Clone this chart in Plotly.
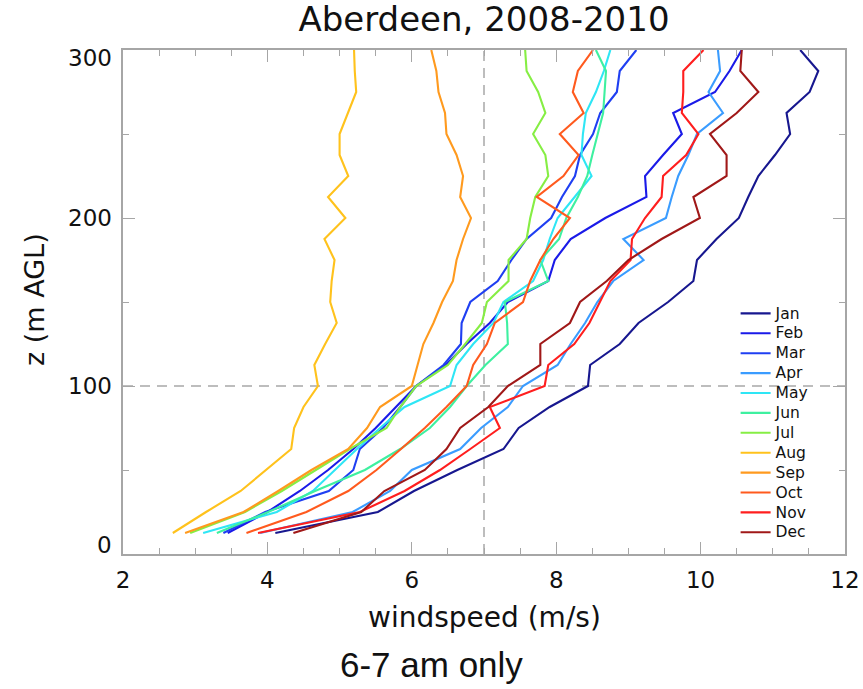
import plotly.graph_objects as go

# heights (m AGL)
heights = [12.5 * k for k in range(1, 25)]

months = ["Jan", "Feb", "Mar", "Apr", "May", "Jun", "Jul", "Aug", "Sep", "Oct", "Nov", "Dec"]

jan = [4.11, 5.53, 6.03, 6.63, 7.27, 7.48, 7.91, 8.44, 8.47, 8.88, 9.14, 9.55, 9.90, 9.95, 10.22, 10.53, 10.66, 10.80, 11.03, 11.24, 11.19, 11.51, 11.63, 11.38]
feb = [3.45, 4.00, 4.45, 4.84, 5.19, 5.50, 5.78, 6.06, 6.47, 6.76, 7.08, 7.33, 7.89, 7.98, 8.20, 8.68, 9.25, 9.23, 9.48, 9.74, 9.62, 10.20, 10.40, 10.57]
mar = [3.39, 3.97, 4.85, 5.19, 5.28, 5.60, 5.84, 6.06, 6.44, 6.68, 6.69, 6.81, 7.19, 7.38, 7.59, 7.93, 8.08, 8.26, 8.33, 8.51, 8.61, 8.84, 8.88, 9.11]
apr = [3.90, 5.18, 5.70, 6.00, 6.67, 6.96, 7.33, 7.54, 8.02, 8.20, 8.40, 8.57, 8.79, 9.21, 8.93, 9.52, 9.60, 9.69, 9.83, 9.95, 10.31, 10.11, 10.27, 10.24]
may = [3.11, 4.13, 4.63, 4.93, 5.24, 5.56, 5.90, 6.53, 6.62, 6.85, 7.13, 7.27, 7.68, 7.82, 7.91, 8.02, 8.25, 8.49, 8.35, 8.37, 8.41, 8.55, 8.66, 8.75]
jun = [3.30, 4.01, 4.66, 5.35, 5.84, 6.25, 6.53, 6.76, 7.02, 7.33, 7.32, 7.29, 7.89, 7.78, 8.04, 8.14, 8.30, 8.43, 8.50, 8.58, 8.65, 8.67, 8.69, 8.55]
jul = [2.93, 3.69, 4.20, 4.67, 5.14, 5.65, 5.84, 6.06, 6.50, 6.74, 6.97, 7.04, 7.34, 7.34, 7.59, 7.64, 7.71, 7.89, 7.85, 7.68, 7.85, 7.75, 7.59, 7.57]
aug = [2.69, 3.15, 3.63, 3.98, 4.33, 4.37, 4.50, 4.70, 4.65, 4.80, 4.96, 4.87, 4.89, 4.93, 4.79, 5.08, 4.84, 5.12, 5.00, 5.00, 5.11, 5.23, 5.21, 5.20]
sep = [2.86, 3.67, 4.15, 4.61, 5.12, 5.38, 5.56, 6.00, 6.08, 6.16, 6.30, 6.42, 6.57, 6.62, 6.71, 6.82, 6.67, 6.71, 6.62, 6.48, 6.46, 6.37, 6.34, 6.27]
oct_ = [3.71, 4.54, 5.12, 5.51, 5.85, 6.18, 6.48, 6.76, 6.85, 7.04, 7.15, 7.54, 7.64, 7.78, 7.96, 8.19, 7.73, 8.10, 8.31, 8.05, 8.38, 8.23, 8.30, 8.51]
nov = [3.87, 5.28, 5.90, 6.39, 6.81, 7.22, 7.08, 7.84, 7.89, 8.25, 8.46, 8.61, 8.75, 9.03, 9.05, 9.23, 9.46, 9.48, 9.80, 9.97, 9.74, 9.76, 9.76, 10.04]
dec = [4.36, 5.30, 5.62, 6.18, 6.48, 6.67, 7.06, 7.33, 7.78, 7.78, 8.19, 8.33, 8.70, 9.00, 9.46, 9.99, 9.90, 10.36, 10.36, 10.13, 10.50, 10.80, 10.55, 10.57]

series = [jan, feb, mar, apr, may, jun, jul, aug, sep, oct_, nov, dec]
colors = ["#17178f", "#1a1ae8", "#1f3ff2", "#3a9cff", "#2ee6f5", "#3ef0a0",
          "#86ee44", "#ffc21c", "#ff9a1e", "#ff5a1e", "#ff1e1e", "#a01818"]

x_ticks = [2, 4, 6, 8, 10, 12]
y_ticks = [0, 100, 200, 300]
y_ticktext = ["0", "100", "200", "300"]
ref_ws = 7
ref_z = 100

FONT = "DejaVu Sans, sans-serif"
CAPFONT = "Liberation Sans, Arial, sans-serif"
AXC = "#a6a6a6"
TXT = "#111"

fig = go.Figure()
for name, vals, col in zip(months, series, colors):
    fig.add_trace(go.Scatter(x=vals, y=heights, mode="lines",
                             name=f"<span style='font-size:15.5px'>{name}</span>",
                             line=dict(color=col, width=2.1)))

fig.add_shape(type="line", xref="x", yref="paper", x0=ref_ws, x1=ref_ws, y0=0, y1=1,
              line=dict(color="#bdbdbd", width=2, dash="10px,7px"), layer="below")
fig.add_shape(type="line", xref="paper", yref="y", x0=0, x1=1, y0=ref_z, y1=ref_z,
              line=dict(color="#bdbdbd", width=2, dash="10px,7px"), layer="below")

axis_common = dict(showgrid=False, zeroline=False, showline=True, linecolor=AXC, linewidth=1.5,
                   mirror="ticks", ticks="inside", tickcolor=AXC, tickwidth=1.3, ticklen=12,
                   automargin=False, tickfont=dict(family=FONT, size=23, color=TXT))

fig.update_xaxes(range=[2, 12], tickvals=x_ticks, ticklabelstandoff=5,
                 minor=dict(dtick=0.5, ticks="inside", ticklen=6, tickcolor=AXC, tickwidth=1.3),
                 **axis_common)
fig.update_yaxes(range=[0, 300], tickvals=y_ticks, showticklabels=False,
                 minor=dict(dtick=50, ticks="inside", ticklen=6, tickcolor=AXC, tickwidth=1.3),
                 **axis_common)

# y tick labels (end labels nudged inward as in the reference)
annotations = []
for i, (v, t) in enumerate(zip(y_ticks, y_ticktext)):
    shift = 9 if i == 0 else (-8 if i == len(y_ticks) - 1 else 0)
    annotations.append(dict(text=t, xref="paper", yref="y", x=0, y=v, xanchor="right",
                            yanchor="middle", xshift=-9, yshift=shift, showarrow=False,
                            font=dict(family=FONT, size=23, color=TXT)))

annotations += [
    dict(text="windspeed (m/s)", xref="paper", yref="paper", x=0.5, y=-(617 - 554) / 504,
         xanchor="center", yanchor="middle", showarrow=False,
         font=dict(family=FONT, size=28, color=TXT)),
    dict(text="z (m AGL)", xref="paper", yref="paper", x=-(123 - 35) / 722, y=0.504,
         xanchor="center", yanchor="middle", textangle=-90, showarrow=False,
         font=dict(family=FONT, size=27, color=TXT)),
    dict(text="6-7 am only", xref="paper", yref="paper", x=(431 - 123) / 722,
         y=-(664 - 554) / 504, xanchor="center", yanchor="middle", showarrow=False,
         font=dict(family=CAPFONT, size=35, color=TXT)),
]

fig.update_layout(
    width=863, height=689,
    margin=dict(l=123, r=18, t=50, b=135),
    paper_bgcolor="white", plot_bgcolor="white",
    title=dict(text="Aberdeen, 2008-2010", x=0.5, xref="paper", xanchor="center",
               y=1 - 19 / 689, yanchor="middle",
               font=dict(family=FONT, size=34, color=TXT)),
    legend=dict(x=0.8485, y=0.507, xanchor="left", yanchor="top",
                bgcolor="rgba(0,0,0,0)", font=dict(family=FONT, size=13, color=TXT),
                tracegroupgap=0),
    annotations=annotations,
)

fig.write_html("out.html", config={"displayModeBar": False},
               post_script="document.body.style.margin='0';document.body.style.padding='0';")
